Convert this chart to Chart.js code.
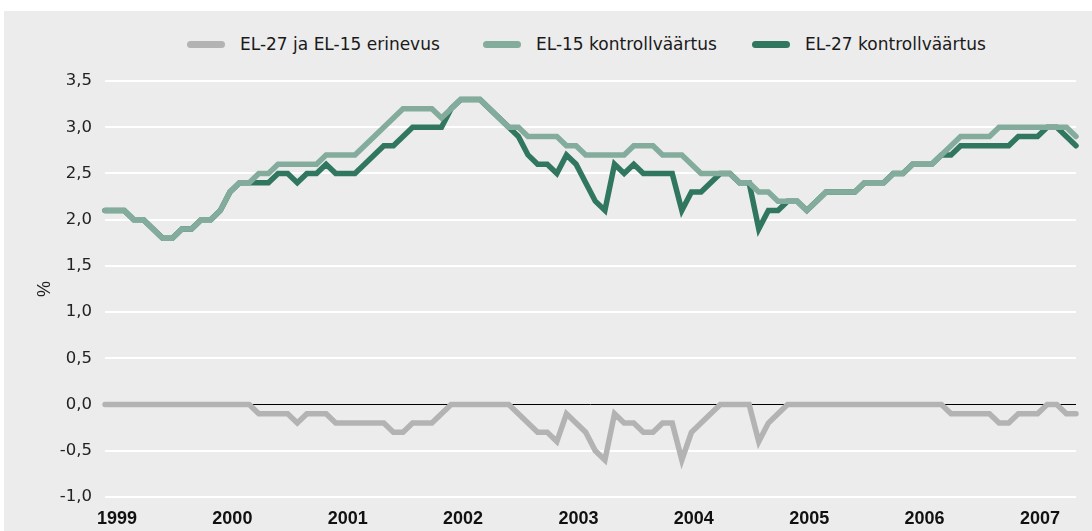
<!DOCTYPE html>
<html>
<head>
<meta charset="utf-8">
<script src="https://cdn.jsdelivr.net/npm/chart.js@4.4.0/dist/chart.umd.min.js"></script>
<style>
  html, body { margin: 0; padding: 0; background: #fff; }
  #panel { position: absolute; left: 4px; top: 11px; width: 1088px; height: 520px; background: #ececec; }
  #chart { position: absolute; left: 0; top: 0; }
  .item { position: absolute; top: 23px; height: 20px; display: flex; align-items: center;
          font: 17px "DejaVu Sans", sans-serif; color: #1a1a1a; white-space: nowrap; }
  .sw { width: 38px; height: 7px; border-radius: 4px; margin-right: 15px; }
</style>
</head>
<body>
<div id="panel">
  <div id="legend"></div>
  <canvas id="chart" width="1088" height="520"></canvas>
</div>
<script>
// yearly tick labels, one point per month from Jan 1999 to Jun 2007
const years = ["1999","2000","2001","2002","2003","2004","2005","2006","2007"];
const months = [];
years.forEach(y => { for (let m = 1; m <= 12; m++) months.push(y + "-" + String(m).padStart(2, "0")); });
months.length = 102;

const seriesNames = ["EL-27 ja EL-15 erinevus", "EL-15 kontrollväärtus", "EL-27 kontrollväärtus"];
const seriesColors = ["#b3b3b3", "#83ac9c", "#317760"];

const el15 = [
  2.1,2.1,2.1,2.0,2.0,1.9,1.8,1.8,1.9,1.9,2.0,2.0,
  2.1,2.3,2.4,2.4,2.5,2.5,2.6,2.6,2.6,2.6,2.6,2.7,
  2.7,2.7,2.7,2.8,2.9,3.0,3.1,3.2,3.2,3.2,3.2,3.1,
  3.2,3.3,3.3,3.3,3.2,3.1,3.0,3.0,2.9,2.9,2.9,2.9,
  2.8,2.8,2.7,2.7,2.7,2.7,2.7,2.8,2.8,2.8,2.7,2.7,
  2.7,2.6,2.5,2.5,2.5,2.5,2.4,2.4,2.3,2.3,2.2,2.2,
  2.2,2.1,2.2,2.3,2.3,2.3,2.3,2.4,2.4,2.4,2.5,2.5,
  2.6,2.6,2.6,2.7,2.8,2.9,2.9,2.9,2.9,3.0,3.0,3.0,
  3.0,3.0,3.0,3.0,3.0,2.9
];
const el27 = [
  2.1,2.1,2.1,2.0,2.0,1.9,1.8,1.8,1.9,1.9,2.0,2.0,
  2.1,2.3,2.4,2.4,2.4,2.4,2.5,2.5,2.4,2.5,2.5,2.6,
  2.5,2.5,2.5,2.6,2.7,2.8,2.8,2.9,3.0,3.0,3.0,3.0,
  3.2,3.3,3.3,3.3,3.2,3.1,3.0,2.9,2.7,2.6,2.6,2.5,
  2.7,2.6,2.4,2.2,2.1,2.6,2.5,2.6,2.5,2.5,2.5,2.5,
  2.1,2.3,2.3,2.4,2.5,2.5,2.4,2.4,1.9,2.1,2.1,2.2,
  2.2,2.1,2.2,2.3,2.3,2.3,2.3,2.4,2.4,2.4,2.5,2.5,
  2.6,2.6,2.6,2.7,2.7,2.8,2.8,2.8,2.8,2.8,2.8,2.9,
  2.9,2.9,3.0,3.0,2.9,2.8
];
const diff = [
  0,0,0,0,0,0,0,0,0,0,0,0,
  0,0,0,0,-0.1,-0.1,-0.1,-0.1,-0.2,-0.1,-0.1,-0.1,
  -0.2,-0.2,-0.2,-0.2,-0.2,-0.2,-0.3,-0.3,-0.2,-0.2,-0.2,-0.1,
  0,0,0,0,0,0,0,-0.1,-0.2,-0.3,-0.3,-0.4,
  -0.1,-0.2,-0.3,-0.5,-0.6,-0.1,-0.2,-0.2,-0.3,-0.3,-0.2,-0.2,
  -0.6,-0.3,-0.2,-0.1,0,0,0,0,-0.4,-0.2,-0.1,0,
  0,0,0,0,0,0,0,0,0,0,0,0,
  0,0,0,0,-0.1,-0.1,-0.1,-0.1,-0.1,-0.2,-0.2,-0.1,
  -0.1,-0.1,0,0,-0.1,-0.1
];

// html legend
const legendLeft = [183, 479, 748];
const legendEl = document.getElementById("legend");
seriesNames.forEach((name, i) => {
  const d = document.createElement("div");
  d.className = "item";
  d.style.left = legendLeft[i] + "px";
  d.innerHTML = `<span class="sw" style="background:${seriesColors[i]}"></span>${name}`;
  legendEl.appendChild(d);
});

function lineSet(label, data, color, order){
  return {
    label, data, order,
    borderColor: color,
    borderWidth: 5.5,
    borderCapStyle: "round",
    borderJoinStyle: "miter",
    pointRadius: 0,
    tension: 0,
    fill: false,
    clip: false
  };
}

new Chart(document.getElementById("chart"), {
  type: "line",
  data: {
    labels: months,
    datasets: [
      lineSet(seriesNames[0], diff, seriesColors[0], 2),
      lineSet(seriesNames[2], el27, seriesColors[2], 1),
      lineSet(seriesNames[1], el15, seriesColors[1], 0)
    ]
  },
  options: {
    responsive: false,
    animation: false,
    devicePixelRatio: 1,
    layout: { padding: { left: 0, right: 16, top: 70, bottom: 0 } },
    plugins: { legend: { display: false }, tooltip: { enabled: false } },
    scales: {
      x: {
        type: "category",
        grid: { display: false },
        border: { display: false },
        afterFit: s => { s.height = 34; },
        ticks: {
          autoSkip: false,
          maxRotation: 0,
          labelOffset: 12,
          padding: 3,
          color: "#111",
          font: { family: "Liberation Sans", size: 18, weight: "bold" },
          callback: (v, i) => (i % 12 === 0 ? years[i / 12] : null)
        }
      },
      y: {
        min: -1,
        max: 3.5,
        afterFit: s => { s.width = 101; },
        border: { display: false },
        grid: {
          drawTicks: false,
          color: c => (c.tick.value === 0 ? "#000" : "#fff"),
          lineWidth: c => (c.tick.value === 0 ? 1 : 2)
        },
        ticks: {
          stepSize: 0.5,
          padding: 13,
          color: "#222",
          font: { family: "DejaVu Sans", size: 16.5 },
          callback: v => v.toFixed(1).replace(".", ",")
        },
        title: {
          display: true,
          text: "%",
          color: "#222",
          font: { family: "Liberation Sans", size: 18 },
          padding: { top: 30, bottom: 0 }
        }
      }
    }
  }
});
</script>
</body>
</html>
